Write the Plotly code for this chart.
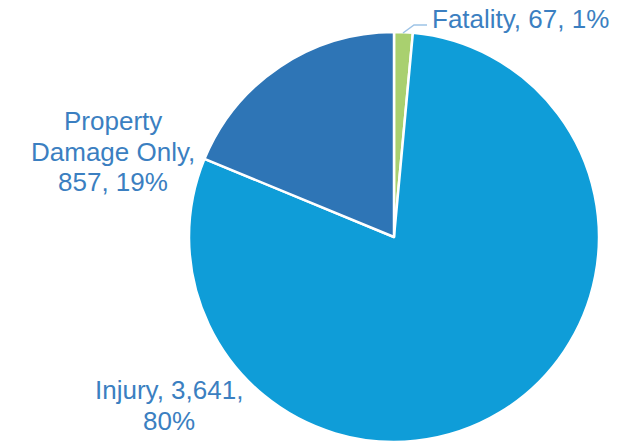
import plotly.graph_objects as go

# Crash severity counts
categories = ["Fatality", "Injury", "Property Damage Only"]
counts = [67, 3641, 857]
colors = ["#a9d06f", "#0f9dd8", "#2e75b6"]

total = sum(counts)
pcts = [round(100 * c / total) for c in counts]

W, H = 626, 444
cx, cy, r = 394, 237, 205

fig = go.Figure(go.Pie(
    labels=categories,
    values=counts,
    sort=False,
    direction="clockwise",
    rotation=0,
    marker=dict(colors=colors, line=dict(color="white", width=2.5)),
    textinfo="none",
    hoverinfo="label+value+percent",
    showlegend=False,
    domain=dict(x=[(cx - r) / W, (cx + r) / W],
                y=[(H - cy - r) / H, (H - cy + r) / H]),
))

font = dict(family="Liberation Sans, Arial, sans-serif", size=26, color="#3b7fc1")


def add_line(text, x_px, y_px, anchor):
    fig.add_annotation(x=x_px / W, y=1 - y_px / H, xref="paper", yref="paper",
                       text=text, showarrow=False, xanchor=anchor, yanchor="middle",
                       font=font)


# Fatality label (single line, upper right)
add_line(f"{categories[0]}, {counts[0]:,}, {pcts[0]}%", 430, 19, "left")

# Property Damage Only label (three lines, left of the pie)
pdo_lines = ["Property", "Damage Only,", f"{counts[2]:,}, {pcts[2]}%"]
for k, t in enumerate(pdo_lines):
    add_line(t, 113, 121 + 30.5 * k, "center")

# Injury label (two lines, lower left)
inj_lines = [f"{categories[1]}, {counts[1]:,},", f"{pcts[1]}%"]
for k, t in enumerate(inj_lines):
    add_line(t, 169, 390 + 30.5 * k, "center")

# Leader line for the small Fatality slice
fig.add_shape(type="path", xref="paper", yref="paper",
              path=f"M {403 / W} {1 - 33 / H} L {414 / W} {1 - 25 / H} L {427 / W} {1 - 25 / H}",
              line=dict(color="#9dc3e6", width=1.5))

fig.update_layout(width=W, height=H, margin=dict(l=0, r=0, t=0, b=0),
                  paper_bgcolor="white", plot_bgcolor="white")

fig.write_html("out.html")
